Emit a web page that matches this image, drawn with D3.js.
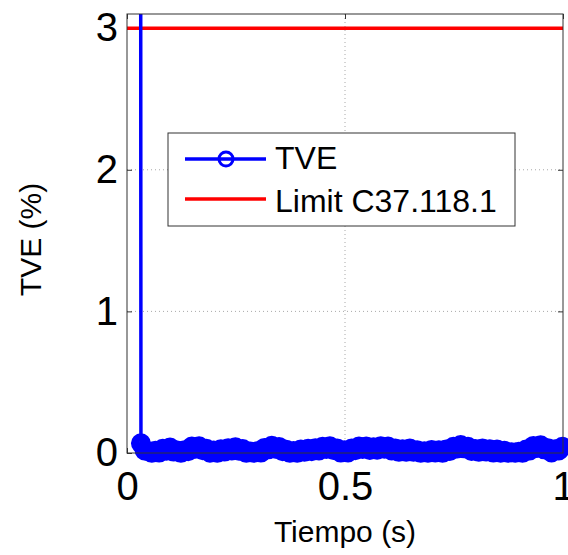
<!DOCTYPE html>
<html>
<head>
<meta charset="utf-8">
<script src="https://cdn.jsdelivr.net/npm/d3@7"></script>
<style>
  html, body { margin: 0; padding: 0; background: #fff; }
  svg { display: block; font-family: "Liberation Sans", Arial, sans-serif; }
</style>
</head>
<body>
<svg id="chart" width="568" height="555"></svg>
<script>
// ---- data ----
const preTime = [0.0153];
const preValue = [95];
const timeStart = 0.032;
const sampleStep = 1 / 120;
const tveValues = [
  0.068, 0.018, 0.013, 0.001, 0.016, 0.003, 0.030, 0.016, 0.038, 0.010,
  0.018, 0.001, 0.020, 0.013, 0.046, 0.030, 0.048, 0.020, 0.030, 0.002,
  0.018, 0.001, 0.026, 0.010, 0.034, 0.018, 0.040, 0.016, 0.028, 0.001,
  0.010, 0.001, 0.013, 0.003, 0.036, 0.026, 0.051, 0.030, 0.043, 0.013,
  0.023, 0.001, 0.014, 0.001, 0.024, 0.008, 0.030, 0.012, 0.034, 0.018,
  0.044, 0.028, 0.048, 0.022, 0.032, 0.003, 0.020, 0.004, 0.032, 0.020,
  0.046, 0.028, 0.046, 0.022, 0.040, 0.023, 0.048, 0.030, 0.046, 0.018,
  0.032, 0.008, 0.026, 0.008, 0.031, 0.008, 0.020, 0.001, 0.012, 0.001,
  0.022, 0.004, 0.020, 0.001, 0.024, 0.014, 0.044, 0.032, 0.056, 0.033,
  0.044, 0.014, 0.028, 0.008, 0.031, 0.010, 0.026, 0.003, 0.024, 0.002,
  0.016, 0.001, 0.006, 0.001, 0.008, 0.001, 0.024, 0.018, 0.050, 0.036,
  0.054, 0.026, 0.034, 0.004, 0.026, 0.018, 0.044
];
const limitValue = 3;
const xTicks = [0, 0.5, 1];
const xTickLabels = ["0", "0.5", "1"];
const yTicks = [0, 1, 2, 3];
const yTickLabels = ["0", "1", "2", "3"];
const seriesNames = ["TVE", "Limit C37.118.1"];
const xLabel = "Tiempo (s)";
const yLabel = "TVE (%)";

const times = preTime.concat(tveValues.map((v, i) => timeStart + i * sampleStep));
const values = preValue.concat(tveValues);
const points = times.map((t, i) => ({ t, v: values[i] }));

// ---- layout ----
const svg = d3.select("#chart");
const L = 127, R = 563, T = 14, B = 453;
const x = d3.scaleLinear().domain([0, 1]).range([L, R]);
const y = d3.scaleLinear().domain([0, 3.1]).range([B, T]);

const blue = "#0000ff", red = "#ff0000", axisColor = "#333";

svg.append("defs").append("clipPath").attr("id", "plotclip")
  .append("rect").attr("x", L).attr("y", T).attr("width", R - L).attr("height", B - T);

// grid
const grid = svg.append("g");
grid.selectAll(".gy").data(yTicks.filter(d => d > 0 && d < 3)).join("line")
  .attr("x1", L).attr("x2", R).attr("y1", d => y(d)).attr("y2", d => y(d))
  .attr("stroke", "#a8a8a8").attr("stroke-width", 1).attr("stroke-dasharray", "1,3");
grid.selectAll(".gx").data(xTicks.filter(d => d > 0 && d < 1)).join("line")
  .attr("y1", T).attr("y2", B).attr("x1", d => x(d)).attr("x2", d => x(d))
  .attr("stroke", "#a8a8a8").attr("stroke-width", 1).attr("stroke-dasharray", "1,3");

// axes
function styleAxis(g) {
  g.select(".domain").remove();
  g.selectAll(".tick line").attr("stroke", axisColor);
  g.selectAll(".tick text").attr("fill", "#000").attr("font-size", 40)
    .attr("font-family", "\"Liberation Sans\", Arial, sans-serif");
}
svg.append("g").attr("transform", `translate(0,${B})`)
  .call(d3.axisBottom(x).tickValues(xTicks).tickFormat((d, i) => xTickLabels[i])
    .tickSizeInner(-5).tickSizeOuter(0).tickPadding(19))
  .call(styleAxis);
svg.append("g").attr("transform", `translate(${L},0)`)
  .call(d3.axisLeft(y).tickValues(yTicks).tickFormat((d, i) => yTickLabels[i])
    .tickSizeInner(-5).tickSizeOuter(0).tickPadding(9))
  .call(styleAxis);
svg.append("g").attr("transform", `translate(0,${T})`)
  .call(d3.axisTop(x).tickValues(xTicks).tickFormat("").tickSizeInner(-5).tickSizeOuter(0))
  .call(styleAxis);
svg.append("g").attr("transform", `translate(${R},0)`)
  .call(d3.axisRight(y).tickValues(yTicks).tickFormat("").tickSizeInner(-5).tickSizeOuter(0))
  .call(styleAxis);

// limit line
svg.append("line")
  .attr("x1", x(0)).attr("x2", x(1)).attr("y1", y(limitValue)).attr("y2", y(limitValue))
  .attr("stroke", red).attr("stroke-width", 3.5);

// TVE line
const line = d3.line().x(d => x(d.t)).y(d => y(d.v));
svg.append("path").datum(points)
  .attr("clip-path", "url(#plotclip)")
  .attr("d", line).attr("fill", "none")
  .attr("stroke", blue).attr("stroke-width", 3.5).attr("stroke-linejoin", "round");

// markers (only for points inside the y range)
svg.append("g").selectAll("circle")
  .data(points.filter(d => d.v <= 3.1))
  .join("circle")
  .attr("cx", d => x(d.t)).attr("cy", d => y(d.v)).attr("r", 6)
  .attr("fill", "none").attr("stroke", blue).attr("stroke-width", 8);

// box
svg.append("rect").attr("x", L).attr("y", T).attr("width", R - L).attr("height", B - T)
  .attr("fill", "none").attr("stroke", axisColor).attr("stroke-width", 1);

// labels
svg.append("text").attr("x", (L + R) / 2).attr("y", 542)
  .attr("text-anchor", "middle").attr("font-size", 30).text(xLabel);
svg.append("text").attr("transform", `translate(41,${(T + B) / 2 + 6}) rotate(-90)`)
  .attr("text-anchor", "middle").attr("font-size", 30).text(yLabel);

// legend
const lg = svg.append("g");
lg.append("rect").attr("x", 168).attr("y", 133).attr("width", 347).attr("height", 93)
  .attr("fill", "#fff").attr("stroke", axisColor).attr("stroke-width", 1);
const legendColors = [blue, red];
const legendY = [159, 199];
const legendBase = [169, 212];
seriesNames.forEach((name, i) => {
  lg.append("line").attr("x1", 185).attr("x2", 266).attr("y1", legendY[i]).attr("y2", legendY[i])
    .attr("stroke", legendColors[i]).attr("stroke-width", 3.5);
  if (i === 0) {
    lg.append("circle").attr("cx", 226).attr("cy", legendY[i]).attr("r", 7)
      .attr("fill", "none").attr("stroke", blue).attr("stroke-width", 3);
  }
  lg.append("text").attr("x", 275).attr("y", legendBase[i]).attr("font-size", 32).text(name);
});
</script>
</body>
</html>
